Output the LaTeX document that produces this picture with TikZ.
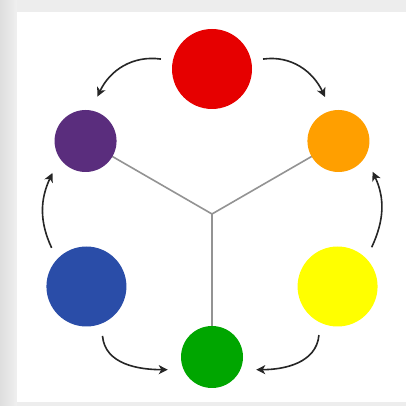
\documentclass[tikz,border=0pt]{standalone}
\usetikzlibrary{arrows.meta, backgrounds}

\definecolor{cred}{HTML}{E60000}
\definecolor{cpurple}{HTML}{5A2D7D}
\definecolor{corange}{HTML}{FF9F00}
\definecolor{cyellow}{HTML}{FFFF00}
\definecolor{cgreen}{HTML}{00A600}
\definecolor{cblue}{HTML}{2A4DA8}

\begin{document}
\begin{tikzpicture}[
  x=1pt, y=1pt,
  big/.style={circle, minimum size=80pt, inner sep=0pt, outer sep=12pt},
  small/.style={circle, minimum size=62pt, inner sep=0pt, outer sep=15pt},
  arr/.style={-{Stealth[length=9pt, width=9pt, inset=2.5pt]}, line width=1.6pt, draw=black!85},
  spoke/.style={draw=gray!85, line width=1.6pt}]
\useasboundingbox (0,0) rectangle (406,406);
\coordinate (hub) at (212,192);
\node[big, fill=cred] (red) at ([shift={(90:145)}]hub) {};
\node[small, fill=corange] (orange) at ([shift={(30:146)}]hub) {};
\node[big, fill=cyellow] (yellow) at ([shift={(-30:145)}]hub) {};
\node[small, fill=cgreen] (green) at ([shift={(-90:143)}]hub) {};
\node[big, fill=cblue] (blue) at ([shift={(210:145)}]hub) {};
\node[small, fill=cpurple] (purple) at ([shift={(150:146)}]hub) {};
\foreach \a/\aa/\b/\bb/\o/\i in {red/169/purple/75/172/65, red/11/orange/107/8/115,
    blue/132/purple/224/115/245, yellow/49/orange/318/65/295,
    blue/288/green/196/-85/180, yellow/249/green/344/-95/0}
  \draw[arr] (\a.\aa) to[out=\o, in=\i] (\b.\bb);
% panel and spokes behind the circles
\begin{scope}[on background layer]
  \fill[black!7] (0,0) rectangle (406,406);
  \shade[left color=black!13, right color=black!6] (0,0) rectangle (17,406);
  \fill[white] (17,4) rectangle (406,394);
  \foreach \c in {purple, orange, green} \draw[spoke] (hub) -- (\c.center);
\end{scope}
\end{tikzpicture}
\end{document}
